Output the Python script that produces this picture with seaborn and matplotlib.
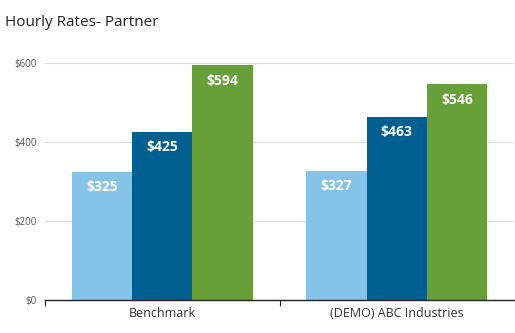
import matplotlib
matplotlib.use("Agg")
import matplotlib.pyplot as plt
import seaborn as sns
import pandas as pd

categories = ["Benchmark", "(DEMO) ABC Industries"]
series = ["Low", "Mid", "High"]
low_values = [325, 327]
mid_values = [425, 463]
high_values = [594, 546]
y_ticks = [0, 200, 400, 600]
y_tick_labels = ["$0", "$200", "$400", "$600"]
colors = ["#85C4E8", "#005F91", "#679F39"]

rows = []
for s, vals in zip(series, [low_values, mid_values, high_values]):
    for c, v in zip(categories, vals):
        rows.append({"category": c, "series": s, "value": v})
df = pd.DataFrame(rows)

sns.set_style("white")
plt.rcParams["font.family"] = ["Open Sans", "DejaVu Sans"]

fig = plt.figure(figsize=(5.15, 3.33), dpi=100)
ax = fig.add_axes([45 / 515, 33 / 333, 469 / 515, 237 / 333])

sns.barplot(data=df, x="category", y="value", hue="series", order=categories,
            hue_order=series, palette=colors, width=0.77, gap=0, saturation=1,
            edgecolor="none", linewidth=0, legend=False, ax=ax, zorder=2)

for cont in ax.containers:
    for bar in cont:
        h = bar.get_height()
        ax.annotate(f"${h:.0f}", (bar.get_x() + bar.get_width() / 2, h),
                    xytext=(0, -11), textcoords="offset points",
                    ha="center", va="center", color="white",
                    fontsize=10, fontweight="bold")

ax.set_xlim(-0.5, 1.5)
ax.set_ylim(0, 600)
ax.set_yticks(y_ticks)
ax.set_yticklabels(y_tick_labels)
ax.yaxis.grid(True, color="#dddddd", linewidth=0.9, zorder=0)
ax.set_axisbelow(True)
ax.tick_params(axis="y", length=0, labelsize=7, labelcolor="#555555", pad=6)
ax.set_xticks([0, 1])
ax.set_xticklabels(categories)
ax.tick_params(axis="x", which="major", length=0, labelsize=9, labelcolor="#333333", pad=5)
ax.set_xticks([-0.5, 0.5], minor=True)
ax.tick_params(axis="x", which="minor", bottom=True, length=4, width=0.8,
               color="#222222", direction="out")
ax.set_xlabel("")
ax.set_ylabel("")
for side in ["top", "right", "left"]:
    ax.spines[side].set_visible(False)
ax.spines["bottom"].set_color("#222222")
ax.spines["bottom"].set_linewidth(1)

fig.text(5 / 515, 1 - 22 / 333, "Hourly Rates- Partner", fontsize=11, color="#222222",
         ha="left", va="center")

fig.savefig("out.png", dpi=100)
